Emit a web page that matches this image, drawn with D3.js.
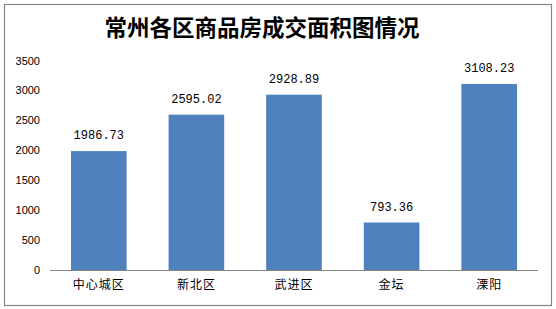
<!DOCTYPE html>
<html>
<head>
<meta charset="utf-8">
<script src="https://cdn.jsdelivr.net/npm/d3@7"></script>
<style>
  body { margin: 0; background: #fff; }
</style>
</head>
<body>
<div id="vis"></div>
<script>
// datos del grafico
const categorias = ["中心城区", "新北区", "武进区", "金坛", "溧阳"];
const valores = [1986.73, 2595.02, 2928.89, 793.36, 3108.23];
const ticksY = [0, 500, 1000, 1500, 2000, 2500, 3000, 3500];
const titulo = "常州各区商品房成交面积图情况";

const WIDTH = 556;
const HEIGHT = 309;
const margins = [50, 18, 60, 39]; // izquierda, derecha, arriba, abajo

const SVG = d3.select("#vis").append("svg")
    .attr("width", WIDTH)
    .attr("height", HEIGHT);

// marco exterior
SVG.append("rect")
    .attr("x", 4.5).attr("y", 4.5)
    .attr("width", 547).attr("height", 301)
    .attr("fill", "white")
    .attr("stroke", "#868686")
    .attr("stroke-width", 1.2);

// titulo
SVG.append("text")
    .attr("x", 262)
    .attr("y", 36)
    .attr("text-anchor", "middle")
    .attr("font-family", "'Noto Sans CJK SC', sans-serif")
    .attr("font-weight", "bold")
    .attr("font-size", 22.5)
    .attr("fill", "#000")
    .text(titulo);

const escala_x = d3.scaleBand()
    .domain(categorias)
    .range([margins[0], WIDTH - margins[1]])
    .paddingInner(0.43)
    .paddingOuter(0.215);

const escala_y = d3.scaleLinear()
    .domain([0, 3500])
    .range([HEIGHT - margins[3], margins[2] + 0.5]);

// eje Y (solo etiquetas)
const ejeY = d3.axisLeft(escala_y).tickValues(ticksY).tickFormat(d3.format("d")).tickSize(0).tickPadding(0);
SVG.append("g")
    .attr("id", "ejeY")
    .attr("transform", `translate(40,0)`)
    .call(ejeY)
    .call(g => g.select(".domain").remove())
    .selectAll("text")
    .attr("font-family", "'Liberation Sans', Arial, sans-serif")
    .attr("font-size", 11)
    .attr("fill", "#000");

// barras
SVG.append("g").attr("id", "barsG")
    .selectAll("rect")
    .data(valores)
    .join("rect")
    .attr("x", (d, i) => escala_x(categorias[i]))
    .attr("y", d => escala_y(d))
    .attr("width", escala_x.bandwidth())
    .attr("height", d => escala_y(0) - escala_y(d))
    .attr("fill", "#4f81bd");

// etiquetas de valor
SVG.append("g")
    .selectAll("text")
    .data(valores)
    .join("text")
    .attr("x", (d, i) => escala_x(categorias[i]) + escala_x.bandwidth() / 2)
    .attr("y", d => escala_y(d) - 12)
    .attr("text-anchor", "middle")
    .attr("font-family", "'Liberation Mono', 'DejaVu Sans Mono', monospace")
    .attr("font-size", 12)
    .attr("fill", "#000")
    .text(d => d.toFixed(2));

// eje X
const ejeX = d3.axisBottom(escala_x).tickSize(0).tickPadding(10);
SVG.append("g")
    .attr("id", "ejeX")
    .attr("transform", `translate(0,${escala_y(0)})`)
    .call(ejeX)
    .call(g => g.select(".domain")
        .attr("d", `M${margins[0]},0.5H${WIDTH - margins[1]}`)
        .attr("stroke", "#868686"))
    .selectAll("text")
    .attr("font-family", "'Noto Sans CJK SC', sans-serif")
    .attr("font-size", 12)
    .attr("letter-spacing", 1)
    .attr("fill", "#000");
</script>
</body>
</html>
